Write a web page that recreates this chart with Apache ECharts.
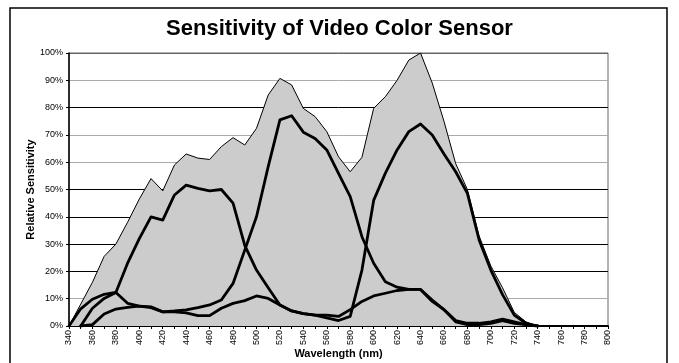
<!DOCTYPE html>
<html>
<head>
<meta charset="utf-8">
<script src="https://cdn.jsdelivr.net/npm/echarts@6/dist/echarts.min.js"></script>
<style>
html,body{margin:0;padding:0;background:#fff;}
#chart{width:679px;height:363px;}
</style>
</head>
<body>
<div id="chart"></div>
<script>
// Wavelength categories (nm)
const wavelengths = [340,350,360,370,380,390,400,410,420,430,440,450,460,470,480,490,500,510,520,530,540,550,560,570,580,590,600,610,620,630,640,650,660,670,680,690,700,710,720,730,740];
// Combined sensitivity (grey area), %
const totalSens = [0,8,16,25.5,30,38,46.5,54,49.5,59,63,61.5,61,65.7,69,66.3,72.4,84.6,90.7,88.3,79.7,76.7,71.2,62,56.5,61.8,79.7,84,90,97.4,100,89,75,59.5,50,33,22,14,5,1.5,0];
// Curve starting at 340 (small lobe near 380, main peak near 640), %
const curveA = [0,6.3,9.8,11.6,12.3,8.3,7.3,6.7,5.2,5.2,4.8,3.8,3.8,6.5,8.3,9.3,11,10.1,7.7,5.5,4.5,4,3,2,3.5,20.5,46,56,64.5,71.2,74,70,63,56.5,48.6,31.5,20.5,11.5,4,1,0];
// Curve peaking near 440, %
const curveB = [null,0,6.5,10.1,12.3,23,32,40,38.8,48,51.6,50.4,49.5,50,45,29.5,20.5,14,7.7,5.5,4.5,4,4,3.5,6,9,11,12,13,13.4,13.4,9.5,6,1.5,0.5,0.5,1,2,1,0.5,0];
// Curve peaking near 530, %
const curveC = [null,0,0.5,4.4,6.2,6.8,7.3,7,5.2,5.5,5.9,6.7,7.7,9.5,15.6,27.8,40,58.4,75.5,77,71,68.7,64.5,55.9,47.4,32.7,23,16.2,14.2,13.4,13.4,9,6,2,1,1,1.5,2.5,1.5,0.5,0];
// Axis ticks
const yTicks = [0,10,20,30,40,50,60,70,80,90,100];
const xLabelStep = 20;

const pairs = arr => wavelengths.map((w,i) => [w, arr[i]]).filter(p => p[1] !== null);

const FONT = "'Liberation Sans', Arial, Helvetica, sans-serif";
const chart = echarts.init(document.getElementById('chart'), null, {renderer:'canvas'});

const splitColors = ['#000','#aaaaaa','#000','#000','#000','#000','#aaaaaa','#aaaaaa','#000','#aaaaaa','#666'];

const lineSeries = (name, arr) => ({
  name, type:'line', data:pairs(arr), symbol:'none', z:3,
  lineStyle:{color:'#000', width:2.8, join:'round', cap:'round'}
});

chart.setOption({
  animation:false,
  backgroundColor:'#fff',
  title:{
    text:'Sensitivity of Video Color Sensor',
    left:'center', top:18, padding:0,
    textStyle:{fontFamily:FONT, fontWeight:'bold', fontSize:22, color:'#000'}
  },
  grid:{left:69, right:71, top:53, bottom:37, show:true, borderColor:'#666', borderWidth:1,
        backgroundColor:'transparent', outerBoundsMode:'none', containLabel:false},
  xAxis:{
    type:'value', min:340, max:800, interval:10,
    name:'Wavelength (nm)', nameLocation:'middle', nameGap:22, nameMoveOverlap:false,
    nameTextStyle:{fontFamily:FONT, fontWeight:'bold', fontSize:11, color:'#000'},
    axisLine:{lineStyle:{color:'#000', width:2}},
    axisTick:{show:true, length:3, lineStyle:{color:'#000', width:1}},
    axisLabel:{rotate:90, fontSize:9, fontFamily:FONT, color:'#000', margin:4,
      formatter: v => (v % xLabelStep === 0 ? String(v) : '')},
    splitLine:{show:false}
  },
  yAxis:{
    type:'value', min:yTicks[0], max:yTicks[yTicks.length-1], interval:10,
    name:'Relative Sensitivity', nameLocation:'middle', nameGap:33, nameRotate:90, nameMoveOverlap:false,
    nameTextStyle:{fontFamily:FONT, fontWeight:'bold', fontSize:11, color:'#000'},
    axisLine:{show:true, lineStyle:{color:'#000', width:1.5}},
    axisTick:{show:true, length:3, lineStyle:{color:'#000', width:1}},
    axisLabel:{fontSize:9, fontFamily:FONT, color:'#000', margin:6, formatter:'{value}%'},
    splitLine:{show:true, lineStyle:{color:splitColors, width:1}}
  },
  graphic:[{
    type:'rect', z:100, silent:true,
    shape:{x:10, y:8, width:657, height:400},
    style:{fill:'none', stroke:'#000', lineWidth:1.5}
  }],
  series:[
    {name:'Total', type:'line', data:pairs(totalSens), symbol:'none', z:2,
     lineStyle:{color:'#000', width:1},
     areaStyle:{color:'#cccccc', opacity:1}},
    lineSeries('A', curveA),
    lineSeries('B', curveB),
    lineSeries('C', curveC)
  ]
});
</script>
</body>
</html>
